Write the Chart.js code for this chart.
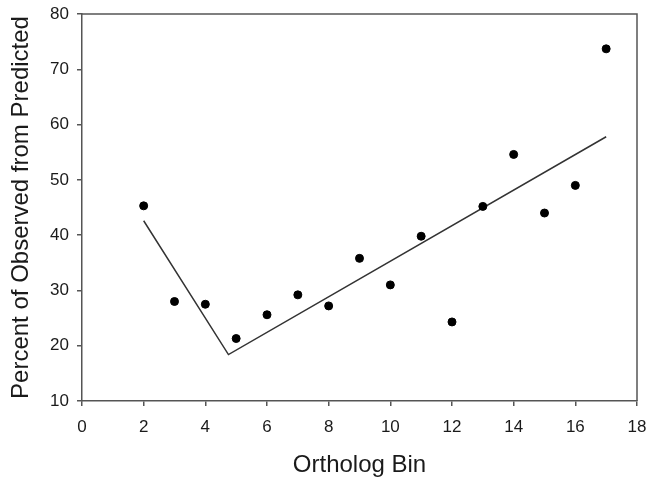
<!DOCTYPE html>
<html lang="en">
<head>
    <meta charset="utf-8" />
    <title>Ortholog Bin - Percent of Observed from Predicted</title>
    <script src="https://cdn.jsdelivr.net/npm/chart.js"></script>
    <style>
      html, body { margin: 0; padding: 0; background: #fff; }
      #wrap { width: 649px; height: 478px; }
    </style>
</head>
<body>
    <div id="wrap"><canvas id="scatterChart" width="649" height="478"></canvas></div>

    <script>
        // --- données ---
        const binX = [2, 3, 4, 5, 6, 7, 8, 9, 10, 11, 12, 13, 14, 15, 16, 17];
        const percentY = [45.3, 28.0, 27.5, 21.3, 25.6, 29.2, 27.2, 35.8, 31.0, 39.8, 24.3, 45.2, 54.6, 44.0, 49.0, 73.7];
        // droite segmentée (ajustement)
        const fitX = [2, 4.75, 17];
        const fitY = [42.6, 18.4, 57.8];

        const axisColor = "#555555";
        const textColor = "#1a1a1a";
        const fontFamily = "'Liberation Sans', Arial, sans-serif";

        // cadre haut + droite autour de la zone du graphe
        const framePlugin = {
            id: "frame",
            afterDraw(chart) {
                const { ctx, chartArea: a } = chart;
                ctx.save();
                ctx.strokeStyle = axisColor;
                ctx.lineWidth = 1.5;
                ctx.beginPath();
                ctx.moveTo(a.left, a.top);
                ctx.lineTo(a.right, a.top);
                ctx.lineTo(a.right, a.bottom);
                ctx.stroke();
                ctx.restore();
            }
        };

        const ctx = document.getElementById("scatterChart").getContext("2d");
        new Chart(ctx, {
            type: "scatter",
            data: {
                datasets: [
                    {
                        label: "Observed",
                        data: binX.map((x, i) => ({ x: x, y: percentY[i] })),
                        backgroundColor: "#000",
                        borderColor: "#000",
                        pointRadius: 4,
                        showLine: false
                    },
                    {
                        label: "Fit",
                        data: fitX.map((x, i) => ({ x: x, y: fitY[i] })),
                        showLine: true,
                        borderColor: "#333",
                        borderWidth: 1.5,
                        pointRadius: 0,
                        fill: false
                    }
                ]
            },
            options: {
                responsive: false,
                animation: false,
                layout: { padding: { top: 14, right: 12, left: 0, bottom: 0 } },
                plugins: {
                    legend: { display: false },
                    tooltip: { enabled: false }
                },
                scales: {
                    x: {
                        type: "linear",
                        min: 0,
                        max: 18,
                        afterFit(scale) {
                            scale.height = 77;
                            scale.paddingLeft = 0;
                            scale.paddingRight = 0;
                        },
                        ticks: {
                            stepSize: 2,
                            color: textColor,
                            padding: 11,
                            font: { family: fontFamily, size: 17 }
                        },
                        grid: { drawOnChartArea: false, tickLength: 5, color: axisColor, lineWidth: 1.5 },
                        border: { color: axisColor, width: 1.5 },
                        title: {
                            display: true,
                            text: "Ortholog Bin",
                            color: textColor,
                            font: { family: fontFamily, size: 24, lineHeight: 1 },
                            padding: { top: 0, bottom: 1 }
                        }
                    },
                    y: {
                        min: 10,
                        max: 80,
                        afterFit(scale) {
                            scale.width = 82;
                            scale.paddingTop = 0;
                            scale.paddingBottom = 0;
                        },
                        ticks: {
                            stepSize: 10,
                            color: textColor,
                            padding: 8,
                            font: { family: fontFamily, size: 17 }
                        },
                        grid: { drawOnChartArea: false, tickLength: 5, color: axisColor, lineWidth: 1.5 },
                        border: { color: axisColor, width: 1.5 },
                        title: {
                            display: true,
                            text: "Percent of Observed from Predicted",
                            color: textColor,
                            font: { family: fontFamily, size: 24, lineHeight: 1 },
                            padding: { top: 9, bottom: 0 }
                        }
                    }
                }
            },
            plugins: [framePlugin]
        });
    </script>
</body>
</html>
